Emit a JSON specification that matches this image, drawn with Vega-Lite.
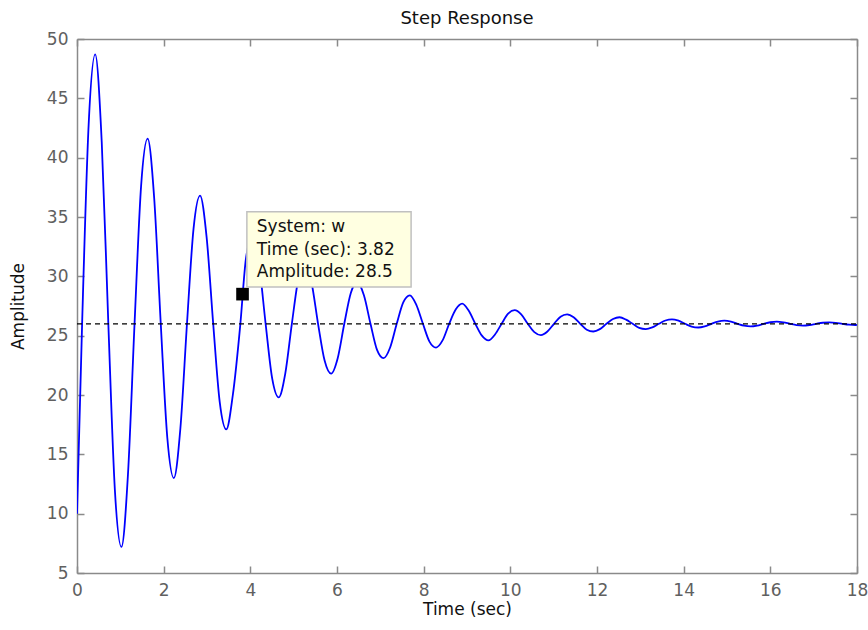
{
  "$schema": "https://vega.github.io/schema/vega-lite/v6.json",
  "width": 780,
  "height": 534,
  "autosize": {"type": "none"},
  "padding": {"left": 77, "top": 39, "right": 11, "bottom": 57},
  "background": "white",
  "title": {"text": "Step Response", "font": "DejaVu Sans", "fontSize": 18, "fontWeight": "normal", "color": "#111111", "anchor": "middle", "offset": 2},
  "config": {
    "view": {"stroke": null},
    "axis": {"grid": false, "labelFlush": false, "domainColor": "#8a8a8a", "domainWidth": 1.5, "tickColor": "#8a8a8a", "tickWidth": 1.5, "labelFont": "DejaVu Sans", "labelFontSize": 17, "labelColor": "#606060", "titleFont": "DejaVu Sans", "titleFontSize": 17, "titleFontWeight": "normal", "titleColor": "#111111"}
  },
  "datasets": {
    "resp": [
      {"t":0,"v":10},{"t":0.118,"v":26},{"t":0.269,"v":42.8},{"t":0.42,"v":48.7},{"t":0.571,"v":41.3},{"t":0.723,"v":26},{"t":0.874,"v":12.0},{"t":1.025,"v":7.2},{"t":1.176,"v":13.3},{"t":1.328,"v":26},{"t":1.479,"v":37.6},{"t":1.63,"v":41.6},{"t":1.781,"v":36.6},{"t":1.933,"v":26},{"t":2.084,"v":16.4},{"t":2.235,"v":13.0},{"t":2.386,"v":17.2},{"t":2.538,"v":26},{"t":2.689,"v":34.0},{"t":2.84,"v":36.8},{"t":2.991,"v":33.3},{"t":3.143,"v":26},{"t":3.294,"v":19.4},{"t":3.445,"v":17.1},{"t":3.596,"v":20.0},{"t":3.77,"v":26},{"t":3.899,"v":31.5},{"t":4.05,"v":33.4},{"t":4.201,"v":31.0},{"t":4.353,"v":26},{"t":4.504,"v":21.4},{"t":4.655,"v":19.8},{"t":4.806,"v":21.8},{"t":4.958,"v":26},{"t":5.109,"v":29.8},{"t":5.26,"v":31.1},{"t":5.411,"v":29.5},{"t":5.563,"v":26},{"t":5.714,"v":22.9},{"t":5.865,"v":21.8},{"t":6.016,"v":23.1},{"t":6.168,"v":26},{"t":6.319,"v":28.6},{"t":6.47,"v":29.5},{"t":6.621,"v":28.4},{"t":6.773,"v":26},{"t":6.924,"v":23.8},{"t":7.075,"v":23.1},{"t":7.226,"v":24.0},{"t":7.378,"v":26},{"t":7.529,"v":27.8},{"t":7.68,"v":28.4},{"t":7.831,"v":27.6},{"t":7.983,"v":26},{"t":8.134,"v":24.5},{"t":8.285,"v":24.0},{"t":8.436,"v":24.6},{"t":8.588,"v":26},{"t":8.739,"v":27.2},{"t":8.89,"v":27.7},{"t":9.041,"v":27.1},{"t":9.193,"v":26},{"t":9.344,"v":25.0},{"t":9.495,"v":24.6},{"t":9.646,"v":25.1},{"t":9.798,"v":26},{"t":9.949,"v":26.85},{"t":10.1,"v":27.15},{"t":10.251,"v":26.8},{"t":10.403,"v":26},{"t":10.554,"v":25.3},{"t":10.705,"v":25.05},{"t":10.856,"v":25.35},{"t":11.008,"v":26},{"t":11.159,"v":26.6},{"t":11.31,"v":26.8},{"t":11.461,"v":26.55},{"t":11.613,"v":26},{"t":11.764,"v":25.5},{"t":11.915,"v":25.35},{"t":12.066,"v":25.55},{"t":12.218,"v":26},{"t":12.369,"v":26.4},{"t":12.52,"v":26.55},{"t":12.671,"v":26.35},{"t":12.823,"v":26},{"t":12.974,"v":25.65},{"t":13.125,"v":25.55},{"t":13.276,"v":25.7},{"t":13.428,"v":26},{"t":13.579,"v":26.28},{"t":13.73,"v":26.38},{"t":13.881,"v":26.26},{"t":14.033,"v":26},{"t":14.184,"v":25.77},{"t":14.335,"v":25.69},{"t":14.486,"v":25.79},{"t":14.638,"v":26},{"t":14.789,"v":26.19},{"t":14.94,"v":26.26},{"t":15.091,"v":26.18},{"t":15.243,"v":26},{"t":15.394,"v":25.84},{"t":15.545,"v":25.78},{"t":15.696,"v":25.85},{"t":15.848,"v":26},{"t":15.999,"v":26.13},{"t":16.15,"v":26.18},{"t":16.301,"v":26.12},{"t":16.453,"v":26},{"t":16.604,"v":25.89},{"t":16.755,"v":25.85},{"t":16.906,"v":25.9},{"t":17.058,"v":26},{"t":17.209,"v":26.09},{"t":17.36,"v":26.12},{"t":17.511,"v":26.08},{"t":17.663,"v":26},{"t":17.814,"v":25.93},{"t":17.965,"v":25.9},{"t":18,"v":25.91}
    ],
    "final": [{"t":0,"v":26},{"t":18,"v":26}],
    "tip": [{"t":3.82,"v":28.5}],
    "box": [{"t1":3.92,"t2":7.71,"v1":29.1,"v2":35.45}],
    "tiptext": [
      {"t":4.15,"v":34.16,"label":"System: w"},
      {"t":4.15,"v":32.25,"label":"Time (sec): 3.82"},
      {"t":4.15,"v":30.37,"label":"Amplitude: 28.5"}
    ]
  },
  "layer": [
    {
      "data": {"name": "resp"},
      "mark": {"type": "line", "color": "#0000ff", "strokeWidth": 1.8, "interpolate": "monotone", "clip": true},
      "encoding": {
        "x": {"field": "t", "type": "quantitative", "scale": {"domain": [0, 18], "nice": false, "zero": false}, "axis": {"title": "Time (sec)", "values": [0,2,4,6,8,10,12,14,16,18], "tickSize": -7, "labelPadding": 16, "titlePadding": 3, "orient": "bottom"}},
        "y": {"field": "v", "type": "quantitative", "scale": {"domain": [5, 50], "nice": false, "zero": false}, "axis": {"title": "Amplitude", "values": [5,10,15,20,25,30,35,40,45,50], "tickSize": -7, "labelPadding": 16, "titlePadding": 19, "orient": "left"}}
      }
    },
    {
      "data": {"name": "final"},
      "mark": {"type": "line", "color": "#000000", "strokeWidth": 1.3, "strokeDash": [5, 4]},
      "encoding": {
        "x": {"field": "t", "type": "quantitative", "axis": {"orient": "top", "title": null, "labels": false, "values": [0,2,4,6,8,10,12,14,16,18], "tickSize": -7}},
        "y": {"field": "v", "type": "quantitative", "axis": {"orient": "right", "title": null, "labels": false, "values": [5,10,15,20,25,30,35,40,45,50], "tickSize": -7}}
      }
    },
    {
      "data": {"name": "tip"},
      "mark": {"type": "point", "shape": "square", "filled": true, "color": "#000000", "size": 160, "opacity": 1},
      "encoding": {
        "x": {"field": "t", "type": "quantitative", "axis": null},
        "y": {"field": "v", "type": "quantitative", "axis": null}
      }
    },
    {
      "data": {"name": "box"},
      "mark": {"type": "rect", "fill": "#ffffe1", "stroke": "#c0c0c0", "strokeWidth": 1.5},
      "encoding": {
        "x": {"field": "t1", "type": "quantitative", "axis": null},
        "x2": {"field": "t2"},
        "y": {"field": "v1", "type": "quantitative", "axis": null},
        "y2": {"field": "v2"}
      }
    },
    {
      "data": {"name": "tiptext"},
      "mark": {"type": "text", "align": "left", "baseline": "middle", "font": "DejaVu Sans", "fontSize": 17, "color": "#111111"},
      "encoding": {
        "x": {"field": "t", "type": "quantitative", "axis": null},
        "y": {"field": "v", "type": "quantitative", "axis": null},
        "text": {"field": "label"}
      }
    }
  ],
  "resolve": {"axis": {"x": "independent", "y": "independent"}}
}
